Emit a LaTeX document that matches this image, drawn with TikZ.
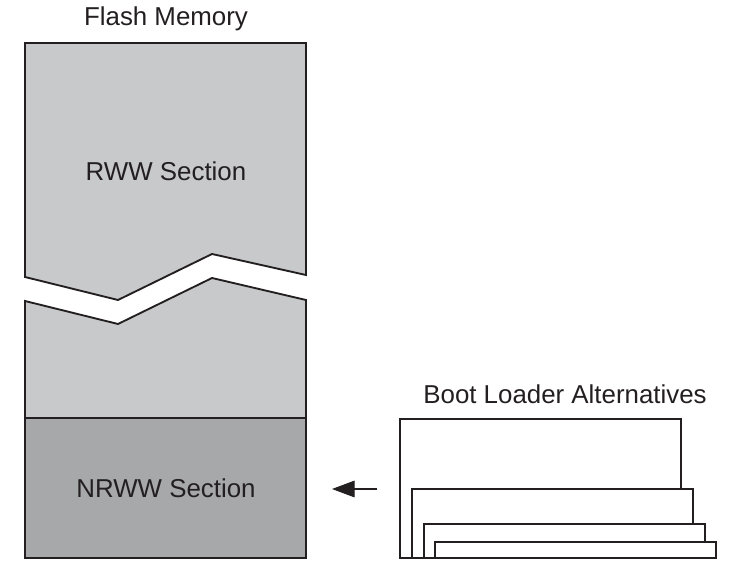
\documentclass[tikz,border=0pt]{standalone}
\usepackage{fontspec}
\setmainfont{Liberation Sans}
\usetikzlibrary{arrows.meta}
\definecolor{rwwgray}{RGB}{200,201,203}
\definecolor{nrwwgray}{RGB}{167,168,170}
\definecolor{inkblack}{RGB}{35,31,32}

\begin{document}
\begin{tikzpicture}[x=0.75pt,y=-0.75pt,line width=1.4pt,draw=inkblack,
	lbl/.style={text=inkblack,font=\fontsize{19.4}{23}\selectfont,inner sep=0pt},
	altbox/.style={draw=inkblack,fill=white}]
	\useasboundingbox (0,0) rectangle (739,573);
	\filldraw[fill=rwwgray] (25,43) -- (306,43) -- (306,275) -- (212,254) -- (118,300) -- (25,277) -- cycle;
	\filldraw[fill=rwwgray] (25,418) -- (25,301) -- (118,324) -- (212,278) -- (306,300) -- (306,418);
	\filldraw[fill=nrwwgray] (25,418) rectangle (306,558);
	\node[lbl] (flash) at (166,19) {Flash Memory};
	\node[lbl] (rww) at (166,171) {RWW Section};
	\node[lbl] (nrww) at (166,488) {NRWW Section};
	\draw[altbox] (400,419) rectangle (681,558);
	\draw[altbox] (412,489) rectangle (693,558);
	\draw[altbox] (424,524) rectangle (705,558);
	\draw[altbox] (435,542) rectangle (716,558);
	\node[lbl] (boot) at (565,394) {Boot Loader Alternatives};
	\coordinate (from) at (377,489);
	\coordinate (to) at (332,489);
	\draw[-{Triangle[length=17pt,width=12.5pt]},line width=0.8pt,fill=inkblack] (from) -- (to);
\end{tikzpicture}
\end{document}
